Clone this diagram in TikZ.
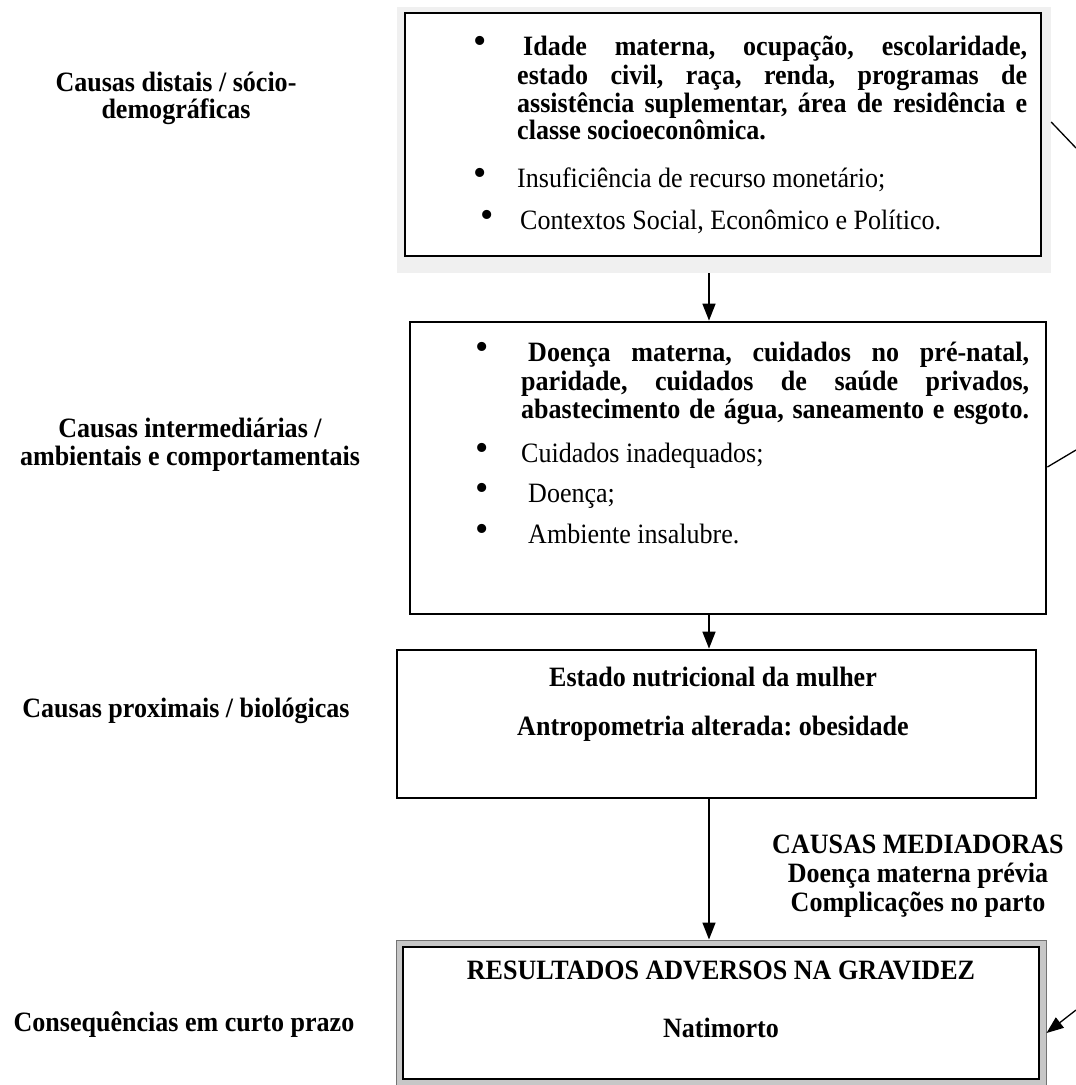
\documentclass[tikz,border=0pt]{standalone}
\usepackage{fontspec}
\setmainfont{Liberation Serif}[FakeStretch=0.93]
\newfontfamily\bulfont{Liberation Serif}
\usetikzlibrary{arrows.meta}
\frenchspacing
\begin{document}
\begin{tikzpicture}[x=1pt,y=-1pt,
  box/.style={draw,line width=2.8pt,inner sep=0pt},
  arr/.style={line width=1.6pt,-{Triangle[width=13pt,length=17pt]}},
  conn/.style={line width=1.3pt},
  lab/.style={font=\fontsize{28}{29}\selectfont\bfseries,anchor=base,inner sep=0pt},
  txt/.style={font=\fontsize{28}{28.5}\selectfont,anchor=base west,inner sep=0pt},
  btxt/.style={font=\fontsize{28}{28.5}\selectfont\bfseries,anchor=base west,inner sep=0pt},
  ctxt/.style={font=\fontsize{28}{28.5}\selectfont\bfseries,anchor=base,inner sep=0pt},
  bul/.style={font=\bulfont\fontsize{38}{38}\selectfont,anchor=base,inner sep=0pt}]
\useasboundingbox (0,0) rectangle (1076,1085);
% ---------- left labels
\node[lab] (l1a) at (176,91) {Causas distais / sócio-};
\node[lab] (l1b) at (176,118) {demográficas};
\node[lab] (l2a) at (190,437) {Causas intermediárias /};
\node[lab] (l2b) at (190,465) {ambientais e comportamentais};
\node[lab] (l3) at (186,717) {Causas proximais / biológicas};
\node[lab] (l4) at (184,1031) {Consequências em curto prazo};
% ---------- box 1
\node[fill=black!6,inner sep=0pt,minimum width=654pt,minimum height=266pt] (bg1) at (724,140) {};
\node[box,fill=white,minimum width=636pt,minimum height=243pt] (b1) at (723,134.5) {};
\node[bul] (u1a) at (480,53) {•};
\node[btxt] (t1a) at (523,55) {\makebox[504pt][s]{Idade materna, ocupação, escolaridade,}};
\node[btxt] (t1b) at (517,84) {\makebox[510pt][s]{estado civil, raça, renda, programas de}};
\node[btxt] (t1c) at (517,112) {\makebox[510pt][s]{assistência suplementar, área de residência e}};
\node[btxt] (t1d) at (517,139) {classe socioeconômica.};
\node[bul] (u1b) at (480,185) {•};
\node[txt] (t1e) at (517,187) {Insuficiência de recurso monetário;};
\node[bul] (u1c) at (487,227) {•};
\node[txt] (t1f) at (520,229) {Contextos Social, Econômico e Político.};
% ---------- box 2
\node[box,minimum width=636pt,minimum height=292pt] (b2) at (728,468) {};
\node[bul] (u2a) at (482,359) {•};
\node[btxt] (t2a) at (528,361) {\makebox[501pt][s]{Doença materna, cuidados no pré-natal,}};
\node[btxt] (t2b) at (521,390) {\makebox[508pt][s]{paridade, cuidados de saúde privados,}};
\node[btxt] (t2c) at (521,418) {\makebox[508pt][s]{abastecimento de água, saneamento e esgoto.}};
\node[bul] (u2b) at (482,460) {•};
\node[txt] (t2d) at (521,462) {Cuidados inadequados;};
\node[bul] (u2c) at (482,500) {•};
\node[txt] (t2e) at (528,502) {Doença;};
\node[bul] (u2d) at (482,541) {•};
\node[txt] (t2f) at (528,543) {Ambiente insalubre.};
% ---------- box 3
\node[box,minimum width=639pt,minimum height=148pt] (b3) at (716.5,724) {};
\node[ctxt] (t3a) at (713,686) {Estado nutricional da mulher};
\node[ctxt] (t3b) at (713,735) {Antropometria alterada: obesidade};
% ---------- mediators
\node[ctxt] (m1) at (918,853) {CAUSAS MEDIADORAS};
\node[ctxt] (m2) at (918,882) {Doença materna prévia};
\node[ctxt] (m3) at (918,911) {Complicações no parto};
% ---------- box 4
\node[draw=black!55,line width=1pt,fill=black!22,inner sep=0pt,minimum width=650pt,minimum height=146pt] (b4o) at (721,1013) {};
\node[box,fill=white,minimum width=636pt,minimum height=132pt] (b4) at (721,1013) {};
\node[ctxt] (t4a) at (721,979) {RESULTADOS ADVERSOS NA GRAVIDEZ};
\node[ctxt] (t4b) at (721,1037) {Natimorto};
% ---------- arrows
\coordinate (ax) at (709,0);
\draw[arr] (bg1.south -| ax) -- (b2.north -| ax);
\draw[arr] (b2.south -| ax) -- (b3.north -| ax);
\draw[arr] (b3.south -| ax) -- (b4o.north -| ax);
% ---------- side connectors
\coordinate (y1) at (0,122);
\coordinate (e1) at (1076,148);
\draw[conn] (bg1.east |- y1) -- (e1);
\coordinate (y2) at (0,467);
\coordinate (e2) at (1076,450);
\draw[conn] (b2.east |- y2) -- (e2);
\coordinate (y3) at (0,1033);
\coordinate (e3) at (1076,1010);
\draw[conn,-{Triangle[width=13pt,length=17pt]}] (e3) -- (b4o.east |- y3);
\end{tikzpicture}
\end{document}
